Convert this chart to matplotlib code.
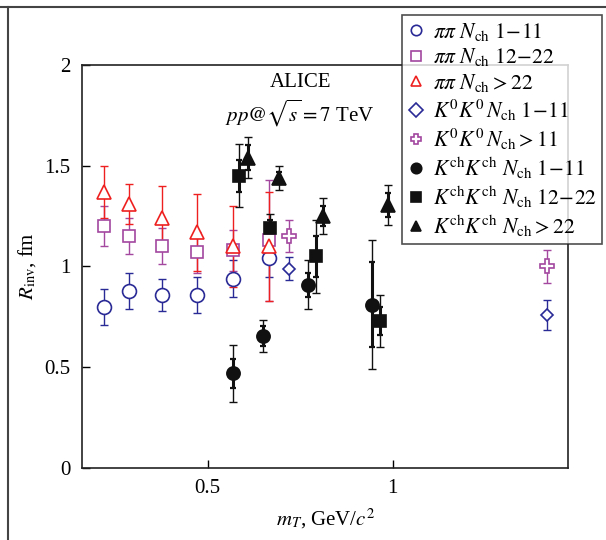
import numpy as np
import matplotlib
matplotlib.use("Agg")
import matplotlib.pyplot as plt
from matplotlib.lines import Line2D

plt.rcParams['font.family'] = ['Liberation Serif', 'DejaVu Serif']
plt.rcParams['mathtext.fontset'] = 'stix'

# pi-pi, three multiplicity classes (same mT bins)
pipi_mt = [0.22, 0.287, 0.376, 0.47, 0.568, 0.666]
pipi_r_low = [0.80, 0.88, 0.86, 0.86, 0.94, 1.04]
pipi_e_low = [0.09, 0.09, 0.08, 0.09, 0.09, 0.09]
pipi_r_mid = [1.20, 1.15, 1.10, 1.07, 1.08, 1.13]
pipi_e_mid = [0.10, 0.09, 0.09, 0.10, 0.10, 0.30]
pipi_r_high = [1.37, 1.31, 1.24, 1.17, 1.10, 1.10]
pipi_e_high = [0.13, 0.10, 0.16, 0.19, 0.20, 0.27]

# K0 K0
k0_mt = [0.72, 1.417]
k0_r_low = [0.99, 0.76]
k0_e_low = [0.055, 0.075]
k0_r_high = [1.15, 1.00]
k0_e_high = [0.08, 0.08]

# Kch Kch
kch_mt_low = [0.568, 0.65, 0.77, 0.944]
kch_r_low = [0.47, 0.655, 0.91, 0.81]
kch_e_low = [0.14, 0.08, 0.12, 0.32]
kch_s_low = [0.07, 0.05, 0.06, 0.21]
kch_mt_mid = [0.585, 0.668, 0.793, 0.965]
kch_r_mid = [1.45, 1.19, 1.05, 0.73]
kch_e_mid = [0.155, 0.07, 0.18, 0.13]
kch_s_mid = [0.08, 0.04, 0.10, 0.07]
kch_mt_high = [0.609, 0.693, 0.812, 0.987]
kch_r_high = [1.54, 1.44, 1.25, 1.305]
kch_e_high = [0.10, 0.06, 0.09, 0.10]
kch_s_high = [0.06, 0.03, 0.05, 0.06]

blue = '#2a2a96'
mag = '#a3479f'
red = '#ee2020'
blk = '#111111'

fig = plt.figure(figsize=(6.06, 5.4), dpi=100)
ax = fig.add_axes([0.135, 0.133, 0.803, 0.747])


def draw(x, y, err, marker, color, ms, fill, label, stat=None):
    ax.errorbar(x, y, yerr=err, fmt='none', ecolor=color, elinewidth=1.0,
                capsize=3, capthick=1.0, zorder=2)
    if stat is not None:
        ax.errorbar(x, y, yerr=stat, fmt='none', ecolor=color, elinewidth=2.2,
                    capsize=2, capthick=1.6, zorder=2)
    ax.plot(x, y, linestyle='none', marker=marker, ms=ms, mec=color,
            mfc=color if fill else 'white', mew=1.2, label=label, zorder=3)


draw(pipi_mt, pipi_r_low, pipi_e_low, 'o', blue, 10, False,
     r'$\pi\pi\ N_{\rm ch}\ 1\!-\!11$')
draw(pipi_mt, pipi_r_mid, pipi_e_mid, 's', mag, 9, False,
     r'$\pi\pi\ N_{\rm ch}\ 12\!-\!22$')
draw(pipi_mt, pipi_r_high, pipi_e_high, '^', red, 10, False,
     r'$\pi\pi\ N_{\rm ch} > 22$')
draw(k0_mt, k0_r_low, k0_e_low, 'D', blue, 6.5, False,
     r'$K^0K^0\,N_{\rm ch}\ 1\!-\!11$')
draw(k0_mt, k0_r_high, k0_e_high, 'P', mag, 10, False,
     r'$K^0K^0\,N_{\rm ch} > 11$')
draw(kch_mt_low, kch_r_low, kch_e_low, 'o', blk, 9.5, True,
     r'$K^{\rm ch}K^{\rm ch}\ N_{\rm ch}\ 1\!-\!11$', kch_s_low)
draw(kch_mt_mid, kch_r_mid, kch_e_mid, 's', blk, 9, True,
     r'$K^{\rm ch}K^{\rm ch}\ N_{\rm ch}\ 12\!-\!22$', kch_s_mid)
draw(kch_mt_high, kch_r_high, kch_e_high, '^', blk, 10, True,
     r'$K^{\rm ch}K^{\rm ch}\ N_{\rm ch} > 22$', kch_s_high)

ax.set_xlim(0.16, 1.475)
ax.set_ylim(0, 2)
ax.set_xticks([0.5, 1])
ax.set_xticklabels(['0.5', '1'])
ax.set_yticks([0, 0.5, 1, 1.5, 2])
ax.set_yticklabels(['0', '0.5', '1', '1.5', '2'])
ax.tick_params(direction='in', length=6, width=1, labelsize=15, pad=8,
               top=False, right=False)
for s in ax.spines.values():
    s.set_linewidth(1.2)
    s.set_color('#222222')

ax.set_xlabel(r'$m_T$, GeV/$c^2$', fontsize=15, labelpad=6)
ax.set_ylabel(r'$R_{\rm inv}$, fm', fontsize=15, labelpad=5)

ax.text(0.75, 1.91, 'ALICE', ha='center', va='center', fontsize=15)
ax.text(0.75, 1.76, r'$pp@\sqrt{s}=7$ TeV', ha='center', va='center',
        fontsize=15)

leg = fig.legend(loc='upper right', bbox_to_anchor=(0.994, 0.972),
                 fontsize=15.5, frameon=True, fancybox=False, edgecolor='#222222',
                 handlelength=0.8, handletextpad=0.4, borderpad=0.25,
                 labelspacing=0.17, borderaxespad=0)
leg.get_frame().set_linewidth(1.2)
leg.set_zorder(5)
for h in leg.legend_handles:
    h.set_markersize(7.5)

# outer frame pieces from the page layout
fig.add_artist(Line2D([0, 1], [1 - 6.7 / 540, 1 - 6.7 / 540],
                      transform=fig.transFigure, color='#444444', lw=1.5))
fig.add_artist(Line2D([8 / 606, 8 / 606], [0, 1 - 6.7 / 540],
                      transform=fig.transFigure, color='#444444', lw=1.5))

plt.savefig('out.png', dpi=100)
